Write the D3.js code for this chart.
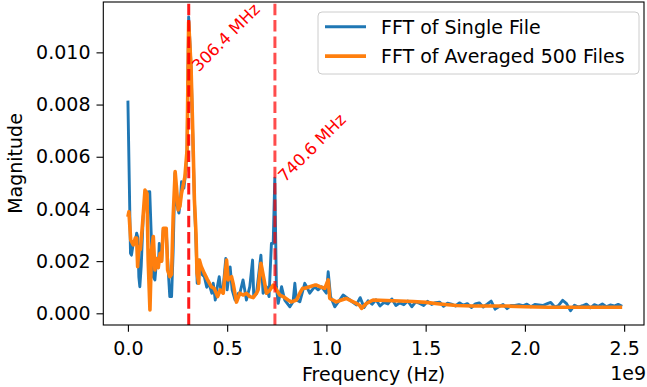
<!DOCTYPE html>
<html lang="en">
<head>
<meta charset="UTF-8">
<title>FFT magnitude</title>
<script src="https://cdn.jsdelivr.net/npm/d3@7"></script>
<style>
  body { margin: 0; background: #fff; }
  svg { display: block; font-family: "DejaVu Sans", sans-serif; }
</style>
</head>
<body>
<svg id="chart" width="647" height="387"></svg>
<script>
// [frequency in MHz, magnitude]
const singleFile = [
  [0, 0.00815], [13, 0.00230], [18, 0.00223], [27, 0.00268], [36, 0.00270], [44, 0.00307],
  [50, 0.00290], [55, 0.00140], [60, 0.00102], [67, 0.00180], [77, 0.00370], [89, 0.00460],
  [100, 0.00465], [110, 0.00466], [119, 0.00268], [128, 0.00140], [136, 0.00128], [144, 0.00200],
  [153, 0.00175], [158, 0.00268], [170, 0.00200], [178, 0.00319], [193, 0.00319], [203, 0.00166],
  [211, 0.00064], [220, 0.00064], [228, 0.00240], [237, 0.00537], [245, 0.00422], [257, 0.00384],
  [265, 0.00434], [270, 0.00504], [282, 0.00480], [292, 0.00549], [298, 0.00626], [306, 0.01136],
  [318, 0.00950], [326, 0.00700], [335, 0.00434], [343, 0.00270], [349, 0.00115], [357, 0.00204],
  [364, 0.00180], [372, 0.00150], [385, 0.00140], [397, 0.00100], [406, 0.00120], [423, 0.00077],
  [430, 0.00115], [440, 0.00051], [450, 0.00100], [460, 0.00140], [468, 0.00090], [480, 0.00100],
  [493, 0.00210], [500, 0.00090], [515, 0.00178], [525, 0.00090], [540, 0.00051], [557, 0.00077],
  [564, 0.00077], [580, 0.00128], [597, 0.00051], [614, 0.00102], [628, 0.00204], [634, 0.00064],
  [648, 0.00077], [670, 0.00223], [681, 0.00077], [698, 0.00102], [711, 0.00064], [723, 0.00268],
  [732, 0.00268], [740, 0.00518], [748, 0.00102], [757, 0.00038], [774, 0.00102], [790, 0.00051],
  [816, 0.00025], [832, 0.00044], [841, 0.00115], [849, 0.00051], [866, 0.00044], [891, 0.00115],
  [900, 0.00102], [916, 0.00077], [941, 0.00102], [958, 0.00090], [975, 0.00102], [1000, 0.00077],
  [1009, 0.00159], [1021, 0.00064], [1042, 0.00025], [1067, 0.00051], [1084, 0.00070], [1118, 0.00051],
  [1151, 0.00032], [1170, 0.00060], [1190, 0.00022], [1210, 0.00048], [1230, 0.00035], [1250, 0.00052],
  [1270, 0.00028], [1290, 0.00042], [1310, 0.00036], [1330, 0.00055], [1350, 0.00030], [1370, 0.00040],
  [1390, 0.00033], [1410, 0.00047], [1430, 0.00025], [1450, 0.00044], [1470, 0.00038], [1490, 0.00030],
  [1510, 0.00046], [1530, 0.00034], [1550, 0.00041], [1570, 0.00043], [1590, 0.00027], [1610, 0.00039],
  [1630, 0.00035], [1650, 0.00028], [1670, 0.00040], [1690, 0.00031], [1710, 0.00037], [1730, 0.00022],
  [1750, 0.00036], [1770, 0.00040], [1790, 0.00024], [1810, 0.00035], [1830, 0.00047], [1850, 0.00016],
  [1870, 0.00026], [1890, 0.00034], [1910, 0.00018], [1930, 0.00030], [1950, 0.00030], [1970, 0.00033],
  [1990, 0.00029], [2010, 0.00035], [2030, 0.00025], [2050, 0.00034], [2070, 0.00032], [2090, 0.00030],
  [2110, 0.00036], [2130, 0.00042], [2150, 0.00024], [2170, 0.00030], [2190, 0.00050], [2210, 0.00037],
  [2230, 0.00010], [2250, 0.00031], [2270, 0.00024], [2290, 0.00029], [2310, 0.00035], [2330, 0.00021],
  [2350, 0.00033], [2370, 0.00027], [2390, 0.00036], [2410, 0.00025], [2430, 0.00032], [2450, 0.00028],
  [2470, 0.00034], [2490, 0.00027]
];

const averaged = [
  [0, 0.00370], [5, 0.00389], [14, 0.00281], [27, 0.00262], [37, 0.00288], [44, 0.00288],
  [49, 0.00179], [55, 0.00255], [63, 0.00245], [74, 0.00346], [86, 0.00472], [96, 0.00460],
  [102, 0.00204], [111, 0.00013], [119, 0.00243], [128, 0.00294], [136, 0.00166], [144, 0.00210],
  [153, 0.00175], [162, 0.00230], [170, 0.00200], [178, 0.00326], [193, 0.00326], [200, 0.00166],
  [211, 0.00140], [220, 0.00150], [228, 0.00370], [238, 0.00543], [245, 0.00480], [253, 0.00396],
  [262, 0.00410], [270, 0.00460], [287, 0.00523], [298, 0.00626], [306, 0.01117], [318, 0.00944],
  [327, 0.00690], [335, 0.00434], [343, 0.00307], [348, 0.00154], [357, 0.00115], [360, 0.00204],
  [369, 0.00180], [385, 0.00153], [400, 0.00130], [420, 0.00102], [435, 0.00095], [452, 0.00064],
  [465, 0.00090], [480, 0.00077], [497, 0.00204], [505, 0.00128], [522, 0.00140], [530, 0.00115],
  [547, 0.00043], [564, 0.00077], [580, 0.00070], [597, 0.00077], [614, 0.00064], [631, 0.00060],
  [648, 0.00077], [656, 0.00090], [670, 0.00192], [686, 0.00128], [698, 0.00077], [715, 0.00089],
  [732, 0.00108], [748, 0.00090], [765, 0.00070], [782, 0.00064], [807, 0.00051], [824, 0.00044],
  [849, 0.00051], [866, 0.00077], [880, 0.00096], [891, 0.00096], [916, 0.00102], [941, 0.00108],
  [950, 0.00108], [967, 0.00102], [992, 0.00096], [1009, 0.00128], [1017, 0.00057], [1050, 0.00044],
  [1076, 0.00051], [1100, 0.00057], [1135, 0.00044], [1151, 0.00038], [1168, 0.00030], [1177, 0.00019],
  [1202, 0.00038], [1235, 0.00051], [1302, 0.00049], [1369, 0.00047], [1436, 0.00045], [1503, 0.00042],
  [1571, 0.00036], [1655, 0.00030], [1738, 0.00028], [1906, 0.00028], [2000, 0.00025], [2118, 0.00023],
  [2490, 0.00023]
];

const peakFreqs = [306.4e6, 740.6e6];
const peakLabels = ["306.4 MHz", "740.6 MHz"];
const peakLabelMags = [0.0094, 0.00518];

const xTicks = [0, 0.5e9, 1.0e9, 1.5e9, 2.0e9, 2.5e9];
const yTicks = [0, 0.002, 0.004, 0.006, 0.008, 0.010];
const seriesNames = ["FFT of Single File", "FFT of Averaged 500 Files"];
const seriesColors = ["#1f77b4", "#ff7f0e"];

const svg = d3.select("#chart");
const plotLeft = 103.3, plotRight = 644, plotTop = 2, plotBottom = 325;
const fontSize = 19;

const x = d3.scaleLinear().domain([-0.124e9, 2.6e9]).range([plotLeft, plotRight]);
const y = d3.scaleLinear().domain([-0.000448, 0.01193]).range([plotBottom, plotTop]);

svg.append("clipPath").attr("id", "plot-clip")
  .append("rect")
  .attr("x", plotLeft).attr("y", plotTop)
  .attr("width", plotRight - plotLeft).attr("height", plotBottom - plotTop);

const line = d3.line()
  .x(d => x(d[0] * 1e6))
  .y(d => y(d[1]));

const plot = svg.append("g").attr("clip-path", "url(#plot-clip)");

plot.append("path")
  .datum(singleFile)
  .attr("d", line)
  .attr("fill", "none")
  .attr("stroke", seriesColors[0])
  .attr("stroke-width", 2.9)
  .attr("stroke-linejoin", "round");

plot.append("path")
  .datum(averaged)
  .attr("d", line)
  .attr("fill", "none")
  .attr("stroke", seriesColors[1])
  .attr("stroke-width", 3.6)
  .attr("stroke-linejoin", "round");

// peak markers
plot.selectAll(".peak")
  .data(peakFreqs)
  .enter()
  .append("line")
  .attr("class", "peak")
  .attr("x1", d => x(d)).attr("x2", d => x(d))
  .attr("y1", plotBottom).attr("y2", plotTop)
  .attr("stroke", "red")
  .attr("stroke-opacity", (d, i) => i === 0 ? 0.9 : 0.7)
  .attr("stroke-width", 3)
  .attr("stroke-dasharray", "11.5,4.8");

svg.selectAll(".peak-label")
  .data(peakFreqs)
  .enter()
  .append("text")
  .attr("class", "peak-label")
  .attr("transform", (d, i) => `translate(${x(d) + 10},${y(peakLabelMags[i]) + 4.5}) rotate(-45)`)
  .attr("fill", "red")
  .attr("font-size", 16.5)
  .text((d, i) => peakLabels[i]);

// axes
const xAxis = svg.append("g")
  .attr("transform", `translate(0,${plotBottom})`)
  .call(d3.axisBottom(x).tickValues(xTicks).tickSize(6.8).tickPadding(9.5)
    .tickFormat(d => (d / 1e9).toFixed(1)));

const yAxis = svg.append("g")
  .attr("transform", `translate(${plotLeft},0)`)
  .call(d3.axisLeft(y).tickValues(yTicks).tickSize(6.8).tickPadding(6)
    .tickFormat(d3.format(".3f")));

[xAxis, yAxis].forEach(g => {
  g.select(".domain").remove();
  g.attr("font-size", fontSize).attr("font-family", "DejaVu Sans");
  g.selectAll(".tick line").attr("stroke", "#000").attr("stroke-width", 1.1);
  g.selectAll(".tick text").attr("fill", "#000");
});

svg.append("rect")
  .attr("x", plotLeft).attr("y", plotTop)
  .attr("width", plotRight - plotLeft).attr("height", plotBottom - plotTop)
  .attr("fill", "none")
  .attr("stroke", "#000")
  .attr("stroke-width", 1.1);

svg.append("text")
  .attr("x", (plotLeft + plotRight) / 2)
  .attr("y", 381)
  .attr("text-anchor", "middle")
  .attr("font-size", fontSize)
  .text("Frequency (Hz)");

svg.append("text")
  .attr("x", 646)
  .attr("y", 380)
  .attr("text-anchor", "end")
  .attr("font-size", fontSize)
  .text("1e9");

svg.append("text")
  .attr("transform", `translate(22,${(plotTop + plotBottom) / 2}) rotate(-90)`)
  .attr("text-anchor", "middle")
  .attr("font-size", fontSize)
  .text("Magnitude");

// legend
const legend = svg.append("g");
legend.append("rect")
  .attr("x", 318).attr("y", 12)
  .attr("width", 321).attr("height", 62)
  .attr("rx", 4)
  .attr("fill", "#fff").attr("fill-opacity", 0.8)
  .attr("stroke", "#cccccc");

seriesNames.forEach((name, i) => {
  const cy = 26.8 + i * 29.3;
  legend.append("line")
    .attr("x1", 325).attr("x2", 366)
    .attr("y1", cy).attr("y2", cy)
    .attr("stroke", seriesColors[i])
    .attr("stroke-width", i === 0 ? 2.9 : 3.6);
  legend.append("text")
    .attr("x", 381).attr("y", cy + 7)
    .attr("font-size", fontSize)
    .text(name);
});
</script>
</body>
</html>
